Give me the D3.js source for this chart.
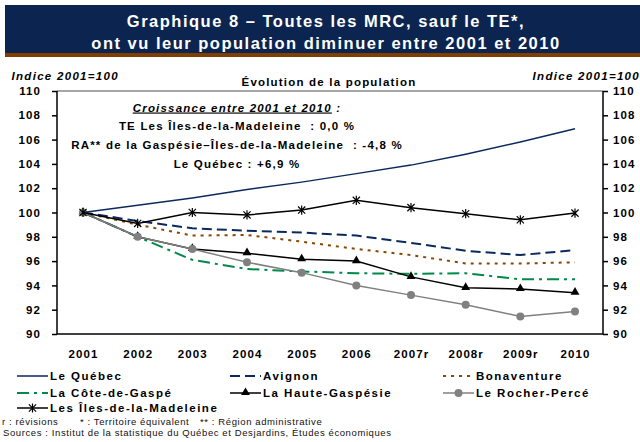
<!DOCTYPE html>
<html>
<head>
<meta charset="utf-8">
<title>Graphique 8</title>
<script src="https://d3js.org/d3.v7.min.js"></script>
<style>
  body { margin: 0; padding: 0; background: #fff; }
  svg { display: block; font-family: "Liberation Sans", Arial, sans-serif; }
  .tick text { font-size: 11.5px; font-weight: bold; fill: #000; letter-spacing: 1.1px; }
</style>
</head>
<body>
<div id="graph"></div>
<script>
// data
var years = ["2001", "2002", "2003", "2004", "2005", "2006", "2007r", "2008r", "2009r", "2010"];
var quebec     = [100, 100.6, 101.2, 101.9, 102.5, 103.2, 103.9, 104.8, 105.8, 106.9];
var avignon    = [100, 99.3, 98.7, 98.5, 98.35, 98.1, 97.5, 96.85, 96.5, 96.9];
var bonaventure= [100, 99.0, 98.1, 98.15, 97.6, 97.0, 96.5, 95.8, 95.8, 95.9];
var coteGaspe  = [100, 98.0, 96.1, 95.35, 95.15, 95.0, 94.95, 95.0, 94.5, 94.5];
var hauteGasp  = [100, 98.0, 97.0, 96.65, 96.15, 96.0, 94.7, 93.8, 93.7, 93.4];
var rocher     = [100, 98.0, 97.0, 95.9, 95.05, 94.0, 93.2, 92.4, 91.45, 91.85];
var iles       = [100, 99.1, 100.0, 99.8, 100.2, 101.0, 100.4, 99.9, 99.4, 99.95];
var yTicks = [90, 92, 94, 96, 98, 100, 102, 104, 106, 108, 110];

var series = [
  {name: "Le Québec", values: quebec, color: "#0b2a5c", dash: null, width: 1.5},
  {name: "Avignon", values: avignon, color: "#0b2a5c", dash: "10,5", width: 2},
  {name: "Bonaventure", values: bonaventure, color: "#8b4500", dash: "3,5", width: 2},
  {name: "La Côte-de-Gaspé", values: coteGaspe, color: "#00894a", dash: "12,5,3,5", width: 2},
  {name: "La Haute-Gaspésie", values: hauteGasp, color: "#000", dash: null, width: 1.5, marker: "tri"},
  {name: "Le Rocher-Percé", values: rocher, color: "#808080", dash: null, width: 1.5, marker: "circle"},
  {name: "Les Îles-de-la-Madeleine", values: iles, color: "#000", dash: null, width: 1.5, marker: "star"}
];

var W = 640, H = 442;
var svg = d3.select("#graph").append("svg").attr("width", W).attr("height", H);

// title banner
svg.append("rect").attr("x", 5).attr("y", 5).attr("width", 635).attr("height", 48).attr("fill", "#0b2550");
svg.append("rect").attr("x", 5).attr("y", 53).attr("width", 635).attr("height", 4).attr("fill", "#7f3f00");
var title = ["Graphique 8 – Toutes les MRC, sauf le TE*,", "ont vu leur population diminuer entre 2001 et 2010"];
title.forEach(function (t, i) {
  svg.append("text").attr("x", 326).attr("y", 27 + i * 21.5).attr("text-anchor", "middle")
    .attr("fill", "#fff").attr("font-size", 16.5).attr("font-weight", "bold")
    .attr("letter-spacing", 1.5).text(t);
});

// plot area
var pl = 57, pr = 603, pt = 91, pb = 334;
var x = d3.scalePoint().domain(years).range([83, 575]);
var y = d3.scaleLinear().domain([90, 110]).range([pb, pt]);

svg.append("line").attr("x1", pl).attr("x2", pr).attr("y1", pt).attr("y2", pt)
  .attr("stroke", "#888").attr("stroke-width", 1.5);

var yl = svg.append("g").attr("transform", "translate(" + pl + ",0)")
  .call(d3.axisLeft(y).tickValues(yTicks).tickSize(5).tickPadding(11));
var yr = svg.append("g").attr("transform", "translate(" + pr + ",0)")
  .call(d3.axisRight(y).tickValues(yTicks).tickSize(5).tickPadding(5));
var xa = svg.append("g").attr("transform", "translate(0," + pb + ")")
  .call(d3.axisBottom(x).tickSize(0).tickPadding(16));
[yl, yr, xa].forEach(function (a) {
  a.selectAll("path, line").attr("stroke", "#000").attr("stroke-width", 1.5);
  a.selectAll("text").attr("font-family", null).attr("font-size", null);
  a.attr("font-family", null).attr("font-size", null);
});
xa.select(".domain").attr("d", "M" + pl + ",0H" + pr);
yl.select(".domain").attr("d", "M0," + pt + "V" + pb);
yr.select(".domain").attr("d", "M0," + pt + "V" + pb);

// axis captions
svg.append("text").attr("x", 11.5).attr("y", 80).attr("font-size", 11.5).attr("font-weight", "bold")
  .attr("font-style", "italic").attr("letter-spacing", 1.3).text("Indice 2001=100");
svg.append("text").attr("x", 640).attr("y", 80).attr("text-anchor", "end").attr("font-size", 11.5)
  .attr("font-weight", "bold").attr("font-style", "italic").attr("letter-spacing", 1.3).text("Indice 2001=100");
svg.append("text").attr("x", 329).attr("y", 86).attr("text-anchor", "middle").attr("font-size", 11.5)
  .attr("font-weight", "bold").attr("letter-spacing", 1.2).text("Évolution de la population");

// annotation
var note = svg.append("g").attr("font-size", 11.5).attr("font-weight", "bold")
  .attr("text-anchor", "middle").attr("letter-spacing", 1.2);
var n1 = note.append("text").attr("x", 237).attr("y", 111.5).attr("font-style", "italic");
n1.append("tspan").attr("text-decoration", "underline").text("Croissance entre 2001 et 2010");
n1.append("tspan").text(" :");
note.append("text").attr("x", 237).attr("y", 129.5).attr("xml:space", "preserve")
  .text("TE Les Îles-de-la-Madeleine  : 0,0 %");
note.append("text").attr("x", 237).attr("y", 148.5).attr("xml:space", "preserve")
  .text("RA** de la Gaspésie–Îles-de-la-Madeleine  : -4,8 %");
note.append("text").attr("x", 237).attr("y", 167.5).text("Le Québec : +6,9 %");

// lines
var line = d3.line().x(function (d, i) { return x(years[i]); }).y(function (d) { return y(d); });

function drawMarker(g, type, cx, cy, color) {
  if (type === "tri") {
    g.append("path").attr("d", d3.symbol().type(d3.symbolTriangle).size(34)())
      .attr("transform", "translate(" + cx + "," + (cy - 0.5) + ")").attr("fill", color);
  } else if (type === "circle") {
    g.append("circle").attr("cx", cx).attr("cy", cy).attr("r", 4).attr("fill", color);
  } else if (type === "star") {
    var s = 3.6;
    g.append("path").attr("d", "M" + (cx - s) + "," + (cy - s) + "L" + (cx + s) + "," + (cy + s) +
      "M" + (cx - s) + "," + (cy + s) + "L" + (cx + s) + "," + (cy - s) +
      "M" + cx + "," + (cy - s - 1) + "V" + (cy + s + 1))
      .attr("stroke", color).attr("stroke-width", 1.2).attr("fill", "none");
  }
}

// draw order: gray circles sit over the triangles where they meet
var order = [2, 1, 3, 4, 5, 0, 6];
order.forEach(function (k) {
  var s = series[k];
  var g = svg.append("g");
  g.append("path").datum(s.values).attr("d", line).attr("fill", "none")
    .attr("stroke", s.color).attr("stroke-width", s.width)
    .attr("stroke-dasharray", s.dash);
  if (s.marker) {
    s.values.forEach(function (v, i) { drawMarker(g, s.marker, x(years[i]), y(v), s.color); });
  }
});

// legend
var cols = [17, 230, 443];
var rows = [380, 397, 412];
series.forEach(function (s, i) {
  var lx = cols[i % 3], ly = rows[Math.floor(i / 3)];
  var g = svg.append("g");
  g.append("line").attr("x1", lx).attr("x2", lx + 31).attr("y1", ly - 4).attr("y2", ly - 4)
    .attr("stroke", s.color).attr("stroke-width", s.width).attr("stroke-dasharray", s.dash);
  if (s.marker) drawMarker(g, s.marker, lx + 15.5, ly - 4, s.color);
  g.append("text").attr("x", lx + 33).attr("y", ly).attr("font-size", 11.5).attr("font-weight", "bold")
    .attr("letter-spacing", 1.5).text(s.name);
});

// footnotes
var foot = svg.append("g").attr("font-size", 9.5).attr("letter-spacing", 0.6).attr("fill", "#111");
foot.append("text").attr("x", 2).attr("y", 425).text("r : révisions");
foot.append("text").attr("x", 80).attr("y", 425).text("* : Territoire équivalent");
foot.append("text").attr("x", 200).attr("y", 425).text("** : Région administrative");
foot.append("text").attr("x", 3).attr("y", 436)
  .text("Sources : Institut de la statistique du Québec et Desjardins, Études économiques");
</script>
</body>
</html>
